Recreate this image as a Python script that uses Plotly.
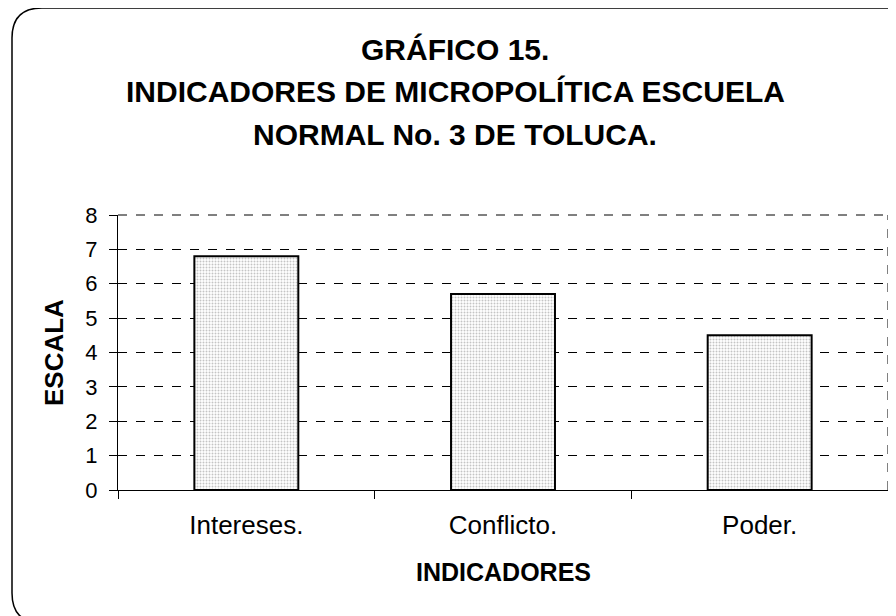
import plotly.graph_objects as go

categories = ["Intereses.", "Conflicto.", "Poder."]
values = [6.8, 5.7, 4.5]
y_ticks = [0, 1, 2, 3, 4, 5, 6, 7, 8]
title_lines = ["GRÁFICO 15.", "INDICADORES DE MICROPOLÍTICA ESCUELA", "NORMAL No. 3 DE TOLUCA."]
x_title = "INDICADORES"
y_title = "ESCALA"

W, H = 896, 616
OFF = 8  # page body margin shifts the figure by this much
# desired window-pixel positions of the plot area
L, R, T, B = 118, 888, 215, 490
fl, fr, ft, fb = L - OFF, R - OFF, T - OFF, B - OFF

def px(x):
    return (x - L) / (R - L)
def py(y):
    return (B - y) / (B - T)

FONT = "Liberation Sans, Arial, sans-serif"

fig = go.Figure(go.Bar(
    x=categories, y=values,
    marker=dict(
        color="white",
        line=dict(color="black", width=2),
        pattern=dict(shape=".", size=3, solidity=0.35, fgcolor="#8a8a8a", bgcolor="white", fillmode="overlay"),
    ),
    width=0.405,
))

fig.update_layout(
    width=W, height=H,
    margin=dict(l=fl, r=W - fr, t=ft, b=H - fb),
    paper_bgcolor="white", plot_bgcolor="white",
    showlegend=False,
    font=dict(family=FONT, color="black"),
    bargap=0.595,
)
fig.update_yaxes(
    range=[0, 8], tickvals=y_ticks, ticks="outside", ticklen=8, tickcolor="black", tickwidth=1,
    showline=True, linecolor="black", linewidth=1,
    showgrid=True, gridcolor="black", gridwidth=1, griddash="dash",
    zeroline=False, tickfont=dict(size=22, family=FONT), ticklabelstandoff=7,
)
fig.update_xaxes(
    tickson="boundaries", ticks="outside", ticklen=8, tickcolor="black", tickwidth=1,
    showline=True, linecolor="black", linewidth=1, showgrid=False,
    tickfont=dict(size=26, family=FONT), ticklabelstandoff=12,
)

ann = []
centers = [50, 91, 134]
for line, cy in zip(title_lines, centers):
    ann.append(dict(text="<b>%s</b>" % line, x=px(455), y=py(cy), xref="paper", yref="paper",
                    xanchor="center", yanchor="middle", showarrow=False,
                    font=dict(size=30, family=FONT, color="black")))
ann.append(dict(text="<b>%s</b>" % x_title, x=px(504), y=py(572), xref="paper", yref="paper",
                xanchor="center", yanchor="middle", showarrow=False,
                font=dict(size=25, family=FONT, color="black")))
ann.append(dict(text="<b>%s</b>" % y_title, x=px(54), y=py(353), xref="paper", yref="paper",
                xanchor="center", yanchor="middle", showarrow=False, textangle=-90,
                font=dict(size=26, family=FONT, color="black")))
fig.update_layout(annotations=ann)

# right and top dashed borders of plot area
shapes = [
    dict(type="line", xref="paper", yref="paper", x0=1, x1=1, y0=0, y1=1,
         line=dict(color="black", width=1, dash="dash")),
    dict(type="line", xref="paper", yref="paper", x0=0, x1=1, y0=1, y1=1,
         line=dict(color="black", width=1, dash="dash")),
]
# rounded outer frame (window pixel coords)
x0, y0, x1, y1, r = 12, 8, 917, 623, 30
path = ("M {a},{b} L {c},{b} Q {d},{b} {d},{e} L {d},{f} Q {d},{g} {c},{g} "
        "L {a},{g} Q {h},{g} {h},{f} L {h},{e} Q {h},{b} {a},{b} Z").format(
    a=px(x0 + r), b=py(y0), c=px(x1 - r), d=px(x1), e=py(y0 + r), f=py(y1 - r), g=py(y1), h=px(x0))
shapes.append(dict(type="path", xref="paper", yref="paper", path=path,
                   line=dict(color="black", width=1.5), layer="above"))
fig.update_layout(shapes=shapes)

fig.write_html("out.html")
